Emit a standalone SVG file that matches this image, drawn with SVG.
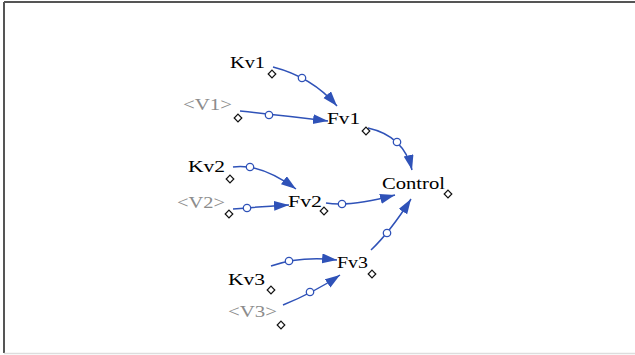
<svg xmlns="http://www.w3.org/2000/svg" width="635" height="355" viewBox="0 0 635 355">
<style>
.t{font-family:"Liberation Serif","DejaVu Serif",serif;font-size:17px;fill:#000}
.g{fill:#8c8c8c}
.c{fill:none;stroke:#2f52b8;stroke-width:1.5}
.o{fill:#fff;stroke:#2f52b8;stroke-width:1.3}
.d{fill:#fff;stroke:#111;stroke-width:1.2}
</style>
<defs>
<marker id="ah" markerUnits="userSpaceOnUse" markerWidth="16" markerHeight="11" refX="15" refY="5" orient="auto">
<path d="M0,0 L15,5 L0,10 z" fill="#2f52b8"/>
</marker>
<path id="dm" d="M0,-3.8 L3.8,0 L0,3.8 L-3.8,0 z"/>
</defs>
<rect width="635" height="355" fill="#fff"/>
<g id="frame">
<line x1="4" y1="2" x2="635" y2="2" stroke="#555" stroke-width="2"/>
<line x1="4" y1="2" x2="4" y2="353" stroke="#555" stroke-width="2"/>
<line x1="4" y1="353.5" x2="635" y2="353.5" stroke="#ddd" stroke-width="1.5"/>
</g>
<g id="connectors">
<path class="c" d="M273,67 Q312,77 337,106" marker-end="url(#ah)"/>
<circle class="o" cx="302" cy="78" r="3.7"/>
<path class="c" d="M240,111 Q280,115 328,121" marker-end="url(#ah)"/>
<circle class="o" cx="269" cy="115" r="3.7"/>
<path class="c" d="M368,128 Q404,136 412,170" marker-end="url(#ah)"/>
<circle class="o" cx="397" cy="142" r="3.7"/>
<path class="c" d="M233,167 Q260,163 296,189" marker-end="url(#ah)"/>
<circle class="o" cx="250" cy="167" r="3.7"/>
<path class="c" d="M233,209 Q255,207 289,205" marker-end="url(#ah)"/>
<circle class="o" cx="247" cy="208" r="3.7"/>
<path class="c" d="M326,203 Q350,207 395,195" marker-end="url(#ah)"/>
<circle class="o" cx="342" cy="204" r="3.7"/>
<path class="c" d="M371,250 Q390,232 411,199" marker-end="url(#ah)"/>
<circle class="o" cx="387" cy="233" r="3.7"/>
<path class="c" d="M271,266 Q300,256 337,260" marker-end="url(#ah)"/>
<circle class="o" cx="289" cy="261" r="3.7"/>
<path class="c" d="M283,305 Q315,292 340,275" marker-end="url(#ah)"/>
<circle class="o" cx="310" cy="292" r="3.7"/>
</g>
<g id="Kv1"><text class="t" x="230" y="68" textLength="35" lengthAdjust="spacingAndGlyphs">Kv1</text><use href="#dm" class="d" x="272" y="74"/></g>
<g id="V1"><text class="t g" x="183" y="110" textLength="49" lengthAdjust="spacingAndGlyphs">&lt;V1&gt;</text><use href="#dm" class="d" x="238" y="118"/></g>
<g id="Fv1"><text class="t" x="327" y="124" textLength="33" lengthAdjust="spacingAndGlyphs">Fv1</text><use href="#dm" class="d" x="366" y="131"/></g>
<g id="Kv2"><text class="t" x="188" y="172" textLength="37" lengthAdjust="spacingAndGlyphs">Kv2</text><use href="#dm" class="d" x="230" y="179"/></g>
<g id="V2"><text class="t g" x="177" y="208" textLength="48" lengthAdjust="spacingAndGlyphs">&lt;V2&gt;</text><use href="#dm" class="d" x="229" y="214"/></g>
<g id="Fv2"><text class="t" x="288" y="207" textLength="34" lengthAdjust="spacingAndGlyphs">Fv2</text><use href="#dm" class="d" x="324" y="211"/></g>
<g id="Control"><text class="t" x="382" y="189" textLength="63" lengthAdjust="spacingAndGlyphs">Control</text><use href="#dm" class="d" x="448" y="194"/></g>
<g id="Fv3"><text class="t" x="337" y="268" textLength="31" lengthAdjust="spacingAndGlyphs">Fv3</text><use href="#dm" class="d" x="372" y="274"/></g>
<g id="Kv3"><text class="t" x="228" y="285" textLength="37" lengthAdjust="spacingAndGlyphs">Kv3</text><use href="#dm" class="d" x="271" y="290"/></g>
<g id="V3"><text class="t g" x="228" y="317" textLength="49" lengthAdjust="spacingAndGlyphs">&lt;V3&gt;</text><use href="#dm" class="d" x="281" y="325"/></g>
</svg>
